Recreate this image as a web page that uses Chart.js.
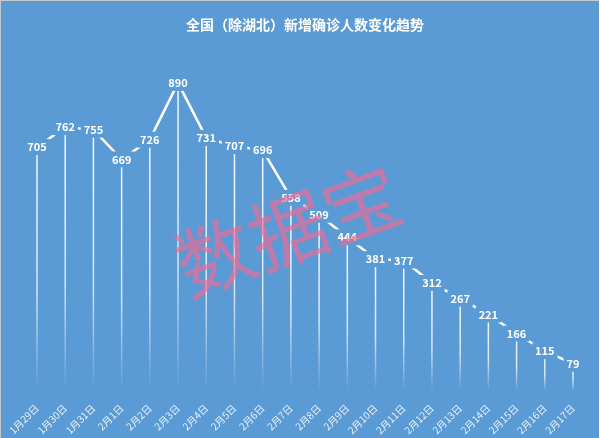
<!DOCTYPE html>
<html>
<head>
<meta charset="utf-8">
<script src="https://cdn.jsdelivr.net/npm/chart.js@4.4.1/dist/chart.umd.min.js"></script>
<style>
  html, body { margin: 0; padding: 0; background: #fff; }
  #wrap { width: 598px; height: 437px; border-left: 1px solid #c8c8c8; border-top: 1px solid #c8c8c8; background: #5b9bd5; }
</style>
</head>
<body>
<div id="wrap"><canvas id="myChart" width="598" height="437"></canvas></div>
<script>
var dates = ['1月29日','1月30日','1月31日','2月1日','2月2日','2月3日','2月4日','2月5日','2月6日','2月7日',
             '2月8日','2月9日','2月10日','2月11日','2月12日','2月13日','2月14日','2月15日','2月16日','2月17日'];
var newCases = [705, 762, 755, 669, 726, 890, 731, 707, 696, 558, 509, 444, 381, 377, 312, 267, 221, 166, 115, 79];

var bg = '#5b9bd5';
var CJK = '"Noto Sans CJK SC", "Noto Sans", sans-serif';

// drop lines from each point down to the axis, fading out
var dropLines = {
  id: 'dropLines',
  beforeDatasetsDraw: function(chart) {
    var ctx = chart.ctx;
    var bottom = chart.scales.y.getPixelForValue(0);
    chart.getDatasetMeta(0).data.forEach(function(pt) {
      var g = ctx.createLinearGradient(0, pt.y, 0, bottom);
      g.addColorStop(0, 'rgba(255,255,255,0.95)');
      g.addColorStop(0.6, 'rgba(255,255,255,0.75)');
      g.addColorStop(1, 'rgba(255,255,255,0)');
      ctx.save();
      ctx.strokeStyle = g;
      ctx.lineWidth = 1.5;
      ctx.beginPath();
      ctx.moveTo(pt.x, pt.y);
      ctx.lineTo(pt.x, bottom);
      ctx.stroke();
      ctx.restore();
    });
  }
};

// value labels with background boxes that cut the line
var valueLabels = {
  id: 'valueLabels',
  afterDatasetsDraw: function(chart) {
    var ctx = chart.ctx;
    var ds = chart.data.datasets[0];
    ctx.save();
    ctx.font = 'bold 11px ' + CJK;
    ctx.textAlign = 'center';
    ctx.textBaseline = 'middle';
    chart.getDatasetMeta(0).data.forEach(function(pt, i) {
      var txt = String(ds.data[i]);
      var w = ctx.measureText(txt).width;
      ctx.fillStyle = bg;
      ctx.fillRect(pt.x - w / 2 - 3, pt.y - 8, w + 6, 16);
      ctx.fillStyle = '#ffffff';
      ctx.fillText(txt, pt.x, pt.y);
    });
    ctx.restore();
  }
};

var watermark = {
  id: 'watermark',
  afterDraw: function(chart) {
    var ctx = chart.ctx;
    ctx.save();
    ctx.translate(287, 229);
    ctx.rotate(-20 * Math.PI / 180);
    ctx.font = '400 78px ' + CJK;
    ctx.textAlign = 'center';
    ctx.textBaseline = 'middle';
    ctx.fillStyle = 'rgba(236,108,150,0.68)';
    ctx.fillText('数据宝', 0, 0);
    ctx.restore();
  }
};

var config = {
  type: 'line',
  data: {
    labels: dates,
    datasets: [{
      data: newCases,
      borderColor: '#ffffff',
      borderWidth: 2.5,
      pointRadius: 0,
      tension: 0
    }]
  },
  options: {
    responsive: false,
    animation: false,
    layout: { padding: { left: 36, right: 26, top: 0, bottom: 0 } },
    plugins: {
      legend: { display: false },
      tooltip: { enabled: false },
      title: {
        display: true,
        text: '全国（除湖北）新增确诊人数变化趋势',
        color: '#ffffff',
        font: { family: CJK, size: 14, weight: 'bold' },
        padding: { top: 15, bottom: 12 }
      }
    },
    scales: {
      x: {
        offset: false,
        grid: { display: false },
        border: { display: false },
        afterFit: function(s) { s.height = 47; },
        ticks: {
          color: 'rgba(255,255,255,0.85)',
          font: { family: CJK, size: 10 },
          minRotation: 45,
          maxRotation: 45,
          autoSkip: false,
          padding: 3
        }
      },
      y: {
        display: false,
        min: 0,
        max: 1000
      }
    }
  },
  plugins: [dropLines, valueLabels, watermark]
};

var myChart = new Chart(document.getElementById('myChart'), config);
</script>
</body>
</html>
